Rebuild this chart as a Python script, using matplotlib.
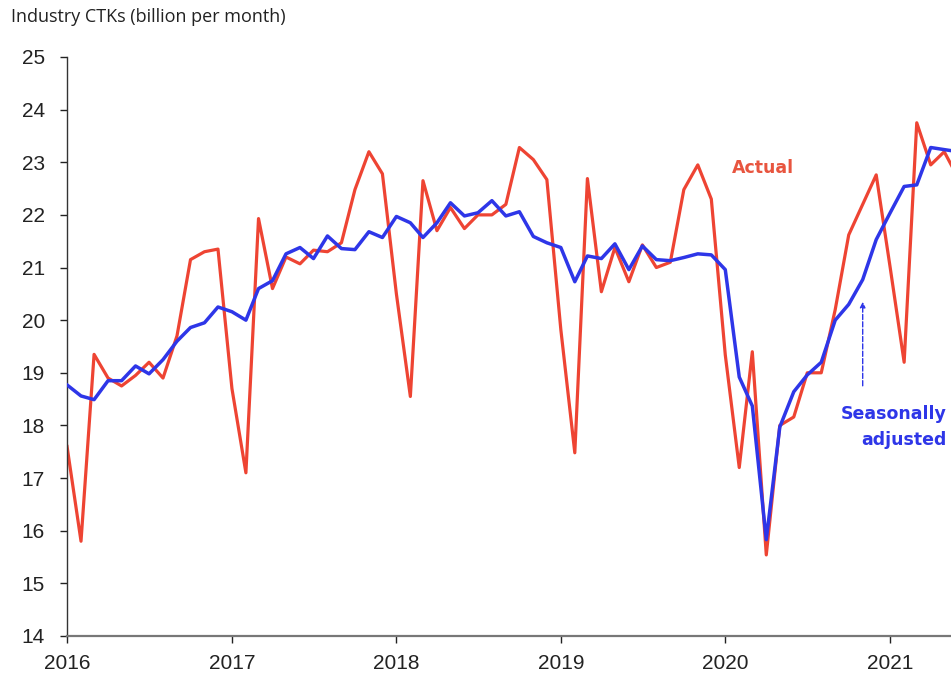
import numpy as np
import pandas as pd
import matplotlib
matplotlib.use("Agg")
import matplotlib.pyplot as plt
import matplotlib.dates as mdates

# monthly industry CTKs, billion, Jan 2016 onwards
actual = [17.6, 15.8, 19.35, 18.9, 18.75, 18.95, 19.2, 18.9, 19.7, 21.15, 21.3, 21.35,
          18.7, 17.1, 21.93, 20.6, 21.2, 21.07, 21.33, 21.3, 21.47, 22.48, 23.2, 22.78,
          20.5, 18.55, 22.65, 21.7, 22.14, 21.74, 22.0, 22.0, 22.2, 23.28, 23.05, 22.67,
          19.82, 17.48, 22.69, 20.54, 21.38, 20.73, 21.43, 21.0, 21.1, 22.48, 22.95, 22.3,
          19.34, 17.2, 19.4, 15.54, 18.0, 18.16, 19.0, 19.0, 20.2, 21.62, 22.2, 22.76,
          21.0, 19.2, 23.75, 22.95, 23.2, 22.7]
seas_adj = [18.77, 18.56, 18.49, 18.85, 18.85, 19.13, 18.98, 19.25, 19.6, 19.86, 19.95, 20.25,
            20.16, 20.0, 20.6, 20.75, 21.26, 21.38, 21.17, 21.6, 21.36, 21.34, 21.68, 21.57,
            21.97, 21.85, 21.57, 21.85, 22.23, 21.98, 22.04, 22.27, 21.98, 22.06, 21.59, 21.47,
            21.38, 20.73, 21.22, 21.17, 21.45, 20.96, 21.41, 21.15, 21.13, 21.19, 21.26, 21.24,
            20.96, 18.92, 18.37, 15.83, 17.97, 18.64, 18.96, 19.2, 20.0, 20.3, 20.77, 21.53,
            22.04, 22.54, 22.57, 23.28, 23.24, 23.2]
months = pd.date_range("2016-01-01", periods=len(actual), freq="MS")

red = "#EE4433"
blue = "#2E36E8"

fig = plt.figure(figsize=(9.51, 6.75), dpi=100)
ax = fig.add_axes([0.0705, 0.0578, 0.9295, 0.8578])

ax.plot(months, actual, color=red, lw=2.3, zorder=2)
ax.plot(months, seas_adj, color=blue, lw=2.5, zorder=3)

ax.set_ylim(14, 25)
ax.set_yticks(range(14, 26))
ax.set_xlim(pd.Timestamp("2016-01-01"), pd.Timestamp("2021-05-16"))
ax.xaxis.set_major_locator(mdates.YearLocator())
ax.xaxis.set_major_formatter(mdates.DateFormatter("%Y"))

for s in ["top", "right"]:
    ax.spines[s].set_visible(False)
ax.spines["left"].set_color("#333333")
ax.spines["left"].set_linewidth(1.0)
ax.spines["bottom"].set_color("#777777")
ax.spines["bottom"].set_linewidth(1.6)
ax.tick_params(axis="both", labelsize=15, colors="#222222", length=5, width=1)
ax.tick_params(axis="x", pad=8)
ax.tick_params(axis="y", pad=11)

for lbl in ax.get_xticklabels() + ax.get_yticklabels():
    lbl.set_family(["Liberation Sans", "DejaVu Sans"])

fig.text(0.012, 0.975, "Industry CTKs (billion per month)", fontsize=13,
         family="Open Sans", color="#222222", va="center", ha="left")

ax.text(pd.Timestamp("2020-03-25"), 22.9, "Actual", color="#E8553F", fontsize=12.5,
        fontweight="bold", ha="center", va="center")
ax.text(pd.Timestamp("2021-05-06"), 17.97, "Seasonally\nadjusted", color=blue,
        fontsize=12.5, fontweight="bold", ha="right", va="center", linespacing=1.55)
ax.annotate("", xy=(pd.Timestamp("2020-11-01"), 20.4),
            xytext=(pd.Timestamp("2020-11-01"), 18.7),
            arrowprops=dict(arrowstyle="-|>", color=blue, lw=1.0, ls="--",
                            mutation_scale=8))

fig.savefig("out.png", dpi=100)
